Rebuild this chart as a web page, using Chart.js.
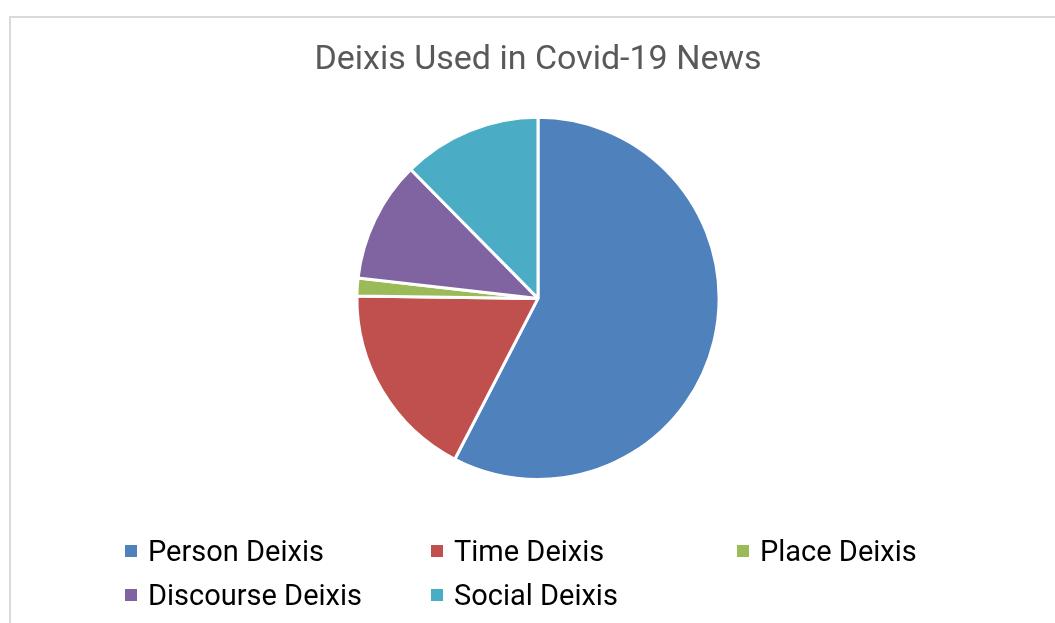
<!DOCTYPE html>
<html>
<head>
<meta charset="utf-8">
<script src="https://cdn.jsdelivr.net/npm/chart.js@4"></script>
<style>
  html, body { margin: 0; padding: 0; background: #fff; }
  #wrap { position: relative; width: 1055px; height: 623px; overflow: hidden; }
  #frame { position: absolute; left: 9px; top: 16px; width: 1100px; height: 700px;
    border-left: 2px solid #d9d9d9; border-top: 2px solid #d9d9d9; box-sizing: border-box; }
  #deixisChart { position: absolute; left: 0; top: 0; }
  #legend { position: absolute; left: 125px; top: 535px;
    display: grid; grid-template-columns: 306px 306px 306px; row-gap: 12px;
    font-family: "Roboto", sans-serif; font-size: 29px; color: #000; }
  .item { display: flex; align-items: center; height: 32px; }
  .box { width: 12px; height: 12px; margin-right: 11px; }
</style>
</head>
<body>
<div id="wrap">
  <div id="frame"></div>
  <canvas id="deixisChart" width="1055" height="623"></canvas>
  <div id="legend"></div>
</div>
<script>
const categories = ["Person Deixis", "Time Deixis", "Place Deixis", "Discourse Deixis", "Social Deixis"];
const counts = [144, 44, 4, 27, 31];
const colors = ["#4f81bd", "#c0504d", "#9bbb59", "#8064a2", "#4bacc6"];

const deixisChart = document.getElementById("deixisChart");

function drawChart() {
  new Chart(deixisChart, {
    type: "pie",
    data: {
      labels: categories,
      datasets: [
        {
          data: counts,
          backgroundColor: colors,
          borderColor: "#fff",
          borderWidth: 3,
          hoverOffset: 0,
        },
      ],
    },
    options: {
      responsive: false,
      animation: false,
      events: [],
      plugins: {
        tooltip: { enabled: false },
        legend: { display: false },
        title: {
          display: true,
          text: "Deixis Used in Covid-19 News",
          color: "#595959",
          font: { family: "Roboto, sans-serif", size: 34, weight: "normal" },
          padding: { top: 40, bottom: 35 },
        },
      },
      // wide chart area so the title is not squeezed; pie radius follows the height
      layout: {
        padding: { left: 21, right: 0, top: 0, bottom: 142 },
      },
    },
  });
}

// legend in the same three-column grid as the original
const legend = document.getElementById("legend");
categories.forEach((name, i) => {
  const item = document.createElement("div");
  item.className = "item";
  item.innerHTML = '<span class="box" style="background:' + colors[i] + '"></span><span>' + name + "</span>";
  legend.appendChild(item);
});

// canvas text needs the font loaded first
document.fonts.load("34px Roboto").then(drawChart, drawChart);
</script>
</body>
</html>
